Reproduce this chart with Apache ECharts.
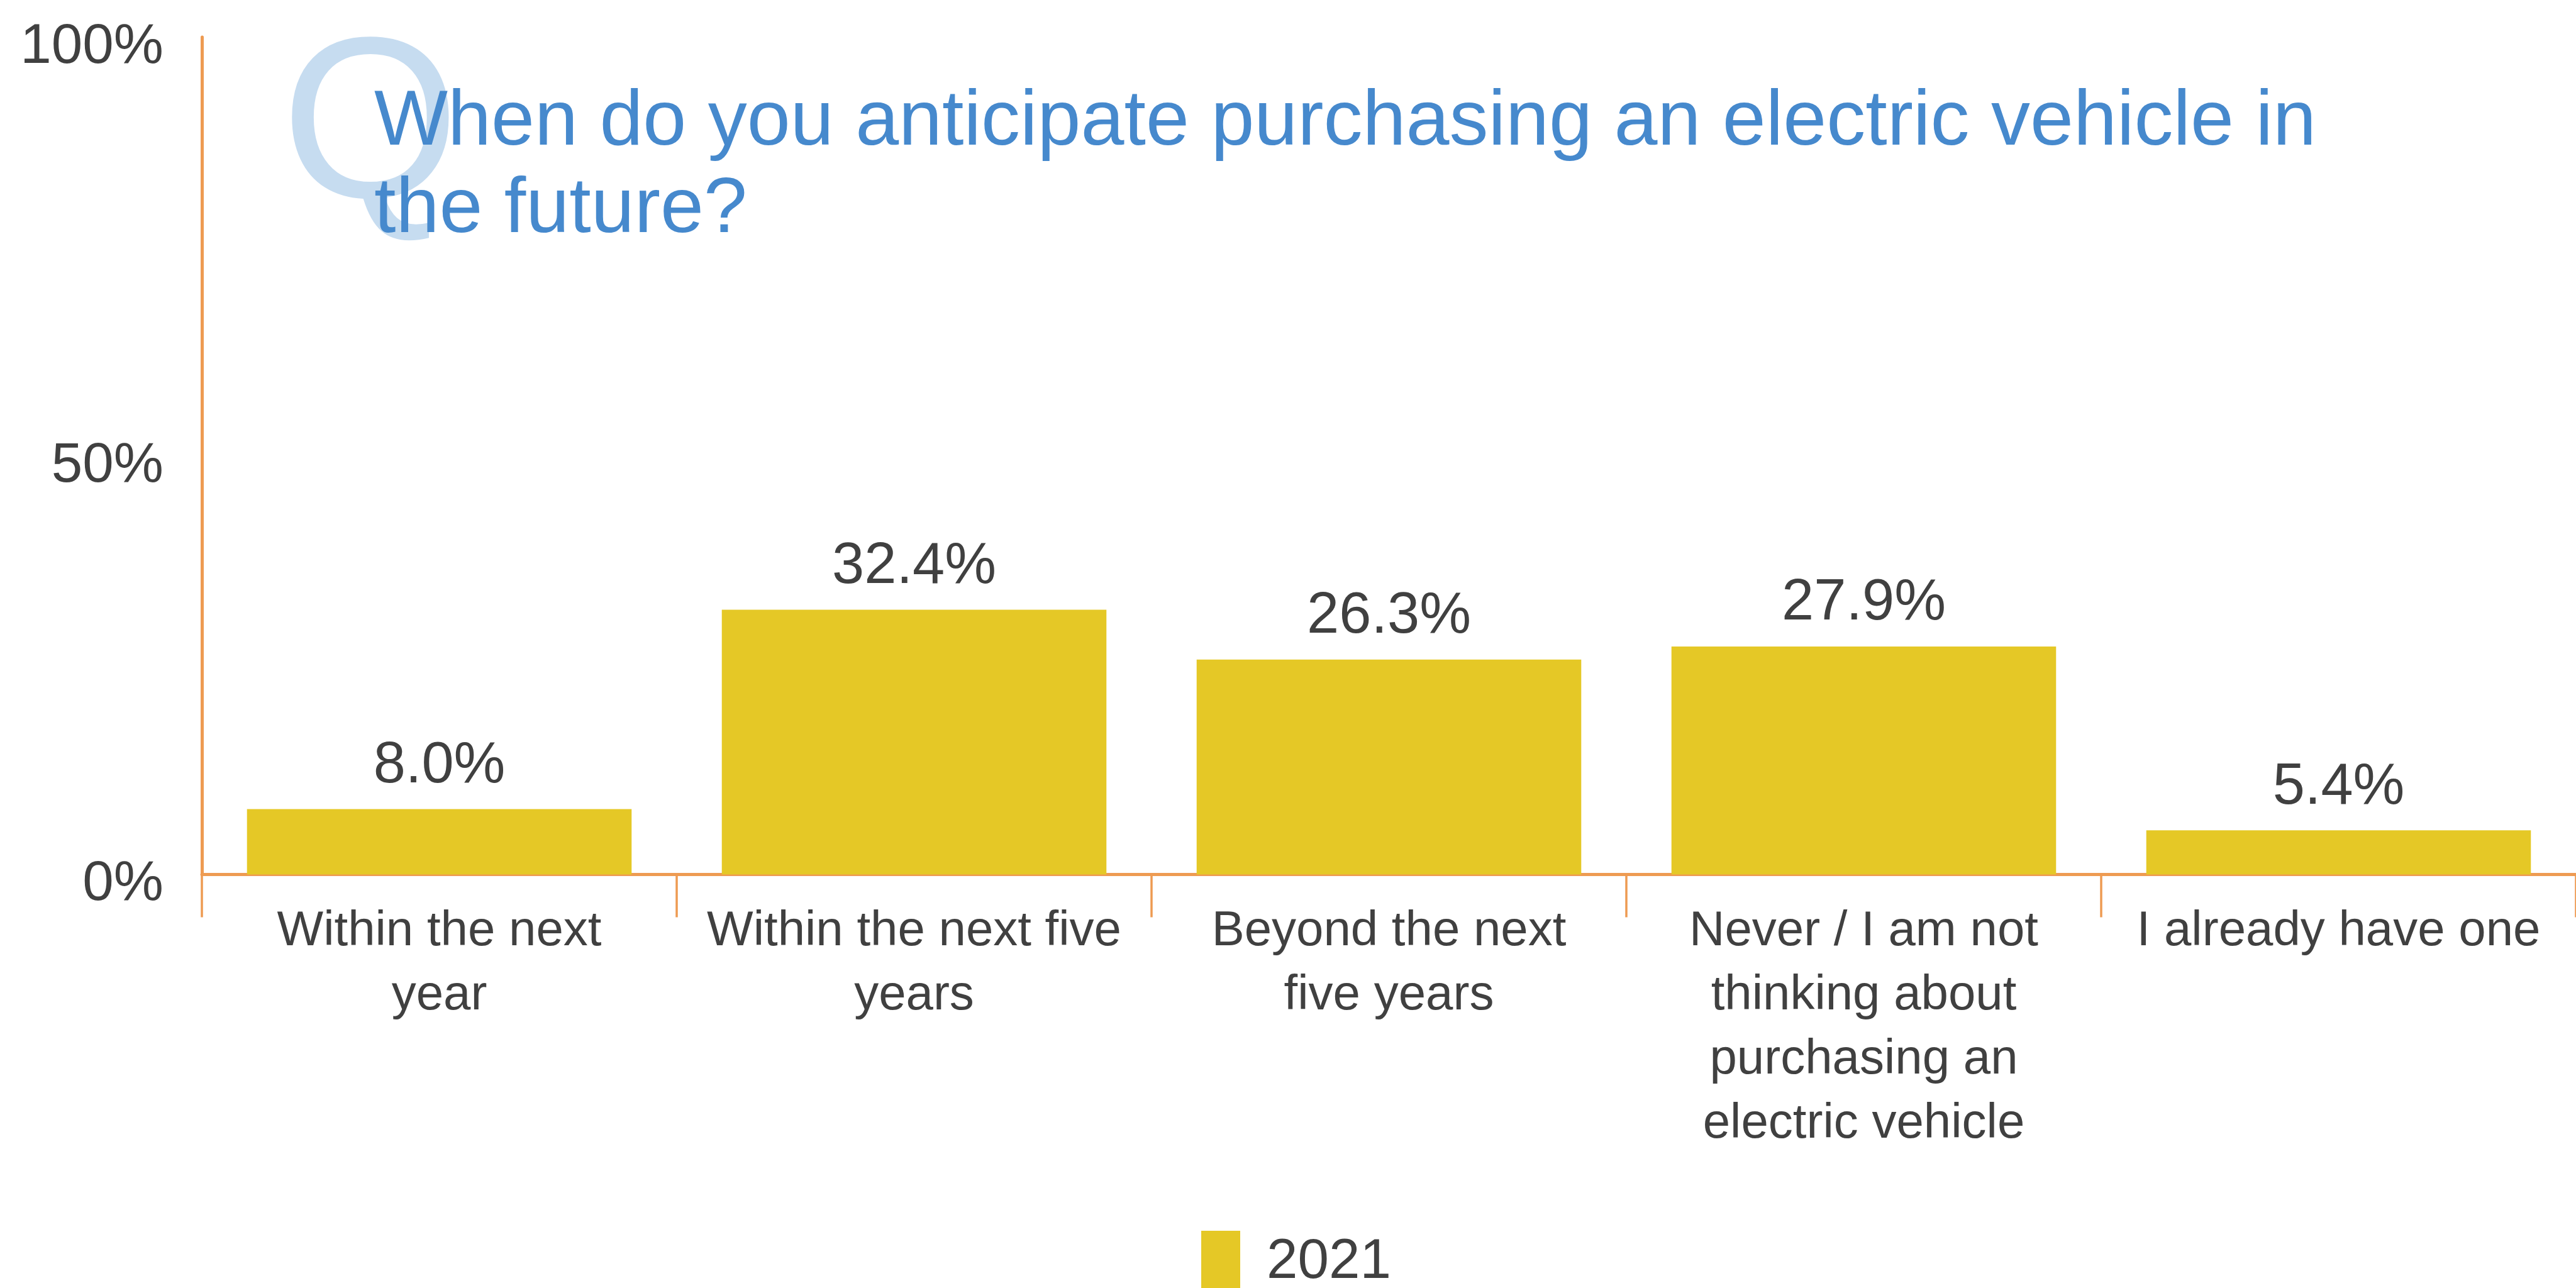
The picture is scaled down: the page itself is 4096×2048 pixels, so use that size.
<!DOCTYPE html>
<html>
<head>
<meta charset="utf-8">
<style>
  html, body { margin: 0; padding: 0; background: #ffffff; }
  #chart { width: 4096px; height: 2048px; }
</style>
<script src="https://cdn.jsdelivr.net/npm/echarts@6/dist/echarts.min.js"></script>
</head>
<body>
<div id="chart"></div>
<script>
// Survey answers (share of respondents, %)
const categories = [
  'Within the next\nyear',
  'Within the next five\nyears',
  'Beyond the next\nfive years',
  'Never / I am not\nthinking about\npurchasing an\nelectric vehicle',
  'I already have one'
];
const values2021 = [8.0, 32.4, 26.3, 27.9, 5.4];
const seriesName = '2021';
const yTicks = [0, 50, 100];
const questionText = 'When do you anticipate purchasing an electric vehicle in\nthe future?';

const FONT = '"Liberation Sans", Arial, sans-serif';
const TEXT_DARK = '#404040';
const AXIS_ORANGE = '#EE9B52';
const BAR_YELLOW = '#E5C826';

const chart = echarts.init(document.getElementById('chart'), null, { renderer: 'canvas' });

chart.setOption({
  backgroundColor: '#ffffff',
  animation: false,
  textStyle: { fontFamily: FONT },
  graphic: [{
    type: 'text',
    z: 0,
    left: 447,
    top: 30,
    style: {
      text: 'Q',
      font: '365px ' + FONT,
      fill: '#C6DCF0'
    }
  }],
  title: {
    text: questionText,
    left: 595,
    top: 126,
    padding: 0,
    z: 10,
    textStyle: {
      fontFamily: FONT,
      fontSize: 124,
      fontWeight: 'normal',
      lineHeight: 139,
      color: '#4689CD'
    }
  },
  legend: {
    data: [seriesName],
    left: 1910,
    top: 1957,
    padding: 0,
    icon: 'rect',
    itemWidth: 62,
    itemHeight: 101,
    textStyle: {
      fontFamily: FONT,
      fontSize: 89,
      color: TEXT_DARK,
      padding: [0, 0, 0, 37]
    }
  },
  grid: {
    left: 321,
    top: 59,
    width: 3782,
    height: 1331.5,
    containLabel: false
  },
  xAxis: {
    type: 'category',
    data: categories,
    boundaryGap: true,
    axisLine: { show: true, lineStyle: { color: AXIS_ORANGE, width: 5 } },
    axisTick: { show: true, alignWithLabel: false, length: 68, lineStyle: { color: AXIS_ORANGE, width: 3.5 } },
    axisLabel: {
      interval: 0,
      margin: 40,
      fontFamily: FONT,
      fontSize: 78,
      lineHeight: 102,
      color: TEXT_DARK,
      align: 'center'
    },
    splitLine: { show: false }
  },
  yAxis: {
    type: 'value',
    min: 0,
    max: 102.5,
    interval: 50,
    axisLine: { show: true, lineStyle: { color: AXIS_ORANGE, width: 5 } },
    axisTick: { show: false },
    splitLine: { show: false },
    axisLabel: {
      margin: 61,
      fontFamily: FONT,
      fontSize: 89,
      color: TEXT_DARK,
      formatter: function (v) {
        if (yTicks.indexOf(v) < 0) return '';
        if (v === 100) return '{up|' + v + '%}';
        if (v === 0) return '{down|' + v + '%}';
        return v + '%';
      },
      rich: {
        up: { fontFamily: FONT, fontSize: 89, color: TEXT_DARK, padding: [0, 0, 32, 0] },
        down: { fontFamily: FONT, fontSize: 89, color: TEXT_DARK, padding: [32, 0, 0, 0] }
      }
    }
  },
  series: [{
    name: seriesName,
    type: 'bar',
    data: values2021,
    barCategoryGap: '19%',
    itemStyle: { color: BAR_YELLOW },
    label: {
      show: true,
      position: 'top',
      distance: 22,
      fontFamily: FONT,
      fontSize: 92,
      color: TEXT_DARK,
      formatter: function (p) { return p.value.toFixed(1) + '%'; }
    }
  }]
});
</script>
</body>
</html>
